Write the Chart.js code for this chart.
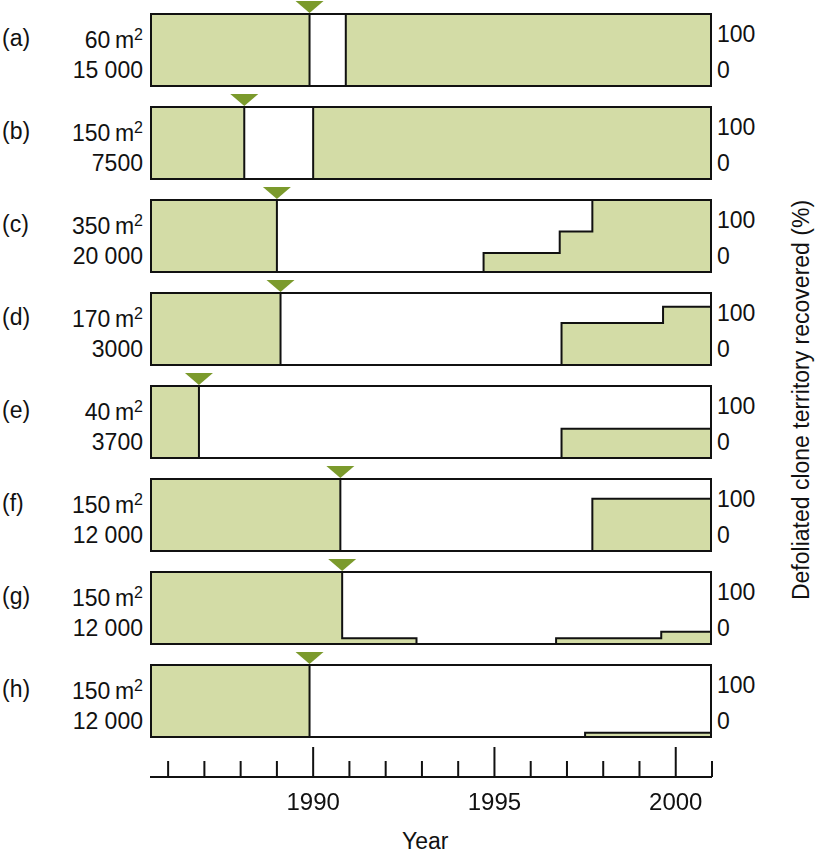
<!DOCTYPE html>
<html>
<head>
<meta charset="utf-8">
<script src="https://cdn.jsdelivr.net/npm/chart.js@4/dist/chart.umd.min.js"></script>
<style>
  body { margin: 0; background: #fff; font-family: "Liberation Sans", Arial, sans-serif; }
  #page { position: relative; width: 821px; height: 858px; }
  .t { position: absolute; font-size: 23px; color: #111; white-space: nowrap; line-height: 1; }
  canvas { position: absolute; }
</style>
</head>
<body>
<div id="page"></div>
<script>
// panel labels
const panelIds = ['(a)', '(b)', '(c)', '(d)', '(e)', '(f)', '(g)', '(h)'];
const areas = ['60', '150', '350', '170', '40', '150', '150', '150'];
const counts = ['15 000', '7500', '20 000', '3000', '3700', '12 000', '12 000', '12 000'];

// year of defoliation (triangle marker)
const events = [1989.9, 1988.1, 1989.0, 1989.1, 1986.85, 1990.75, 1990.8, 1989.9];

// step series: [year, % territory recovered]
const seriesA = [[1985.5, 100], [1989.9, 0], [1990.9, 100], [2001, 100]];
const seriesB = [[1985.5, 100], [1988.1, 0], [1990.0, 100], [2001, 100]];
const seriesC = [[1985.5, 100], [1989.0, 0], [1994.7, 27], [1996.8, 56], [1997.7, 100], [2001, 100]];
const seriesD = [[1985.5, 100], [1989.1, 0], [1996.85, 58], [1999.65, 80], [2001, 80]];
const seriesE = [[1985.5, 100], [1986.85, 0], [1996.85, 41], [2001, 41]];
const seriesF = [[1985.5, 100], [1990.75, 0], [1997.7, 72], [2001, 72]];
const seriesG = [[1985.5, 100], [1990.8, 9], [1992.85, 0], [1996.7, 9], [1999.6, 18], [2001, 18]];
const seriesH = [[1985.5, 100], [1989.9, 0], [1997.5, 7], [2001, 7]];
const allSeries = [seriesA, seriesB, seriesC, seriesD, seriesE, seriesF, seriesG, seriesH];

// axis
const yearMin = 1985.5, yearMax = 2001;
const tickYears = [1986, 1987, 1988, 1989, 1990, 1991, 1992, 1993, 1994, 1995, 1996, 1997, 1998, 1999, 2000, 2001];
const majorYears = [1990, 1995, 2000];

const page = document.getElementById('page');
const PL = 150, PW = 562, PH = 74, GAP = 93, TOP0 = 13;
const fillColor = '#d3dca6', markColor = '#7b9a2c';

function addText(txt, x, y, align, html) {
  const d = document.createElement('div');
  d.className = 't';
  if (html) d.innerHTML = txt; else d.textContent = txt;
  d.style.top = (y - 11) + 'px';
  if (align === 'right') { d.style.right = (821 - x) + 'px'; } else { d.style.left = x + 'px'; }
  page.appendChild(d);
}

const framePlugin = {
  id: 'frame',
  afterDatasetsDraw(chart) {
    const { ctx, chartArea: a } = chart;
    ctx.save();
    ctx.strokeStyle = '#111';
    ctx.lineWidth = 2;
    ctx.strokeRect(a.left + 1, a.top + 1, a.width - 2, a.height - 2);
    ctx.restore();
  }
};

const markerPlugin = {
  id: 'marker',
  afterDraw(chart, args, opts) {
    const { ctx } = chart;
    const x = chart.scales.x.getPixelForValue(opts.year);
    const top = chart.chartArea.top;
    ctx.save();
    ctx.fillStyle = markColor;
    ctx.beginPath();
    ctx.moveTo(x - 14, top - 12);
    ctx.lineTo(x + 14, top - 12);
    ctx.lineTo(x, top);
    ctx.closePath();
    ctx.fill();
    ctx.restore();
  }
};

allSeries.forEach((s, i) => {
  const T = TOP0 + GAP * i;
  const wrap = document.createElement('div');
  wrap.style.cssText = `position:absolute;left:${PL}px;top:${T - 14}px;width:${PW}px;height:${PH + 14}px;`;
  const cv = document.createElement('canvas');
  wrap.appendChild(cv);
  page.appendChild(wrap);

  new Chart(cv, {
    type: 'line',
    data: {
      datasets: [{
        data: s.map(p => ({ x: p[0], y: p[1] })),
        stepped: 'before',
        borderColor: '#111',
        borderWidth: 2,
        backgroundColor: fillColor,
        fill: 'origin',
        pointRadius: 0
      }]
    },
    options: {
      responsive: true,
      maintainAspectRatio: false,
      animation: false,
      layout: { padding: { top: 14 } },
      plugins: { legend: { display: false }, tooltip: { enabled: false }, marker: { year: events[i] } },
      scales: {
        x: { type: 'linear', min: yearMin, max: yearMax, display: false },
        y: { min: 0, max: 100, display: false }
      }
    },
    plugins: [framePlugin, markerPlugin]
  });

  addText(panelIds[i], 2, T + 25);
  addText(areas[i] + '\u2009m<sup style="font-size:16px;vertical-align:8px">2</sup>', 143, T + 25, 'right', true);
  addText(counts[i], 143, T + 57, 'right');
  addText('100', 717, T + 21);
  addText('0', 717, T + 57);
});

// time axis
const axWrap = document.createElement('div');
axWrap.style.cssText = `position:absolute;left:${PL - 30}px;top:740px;width:${PW + 60}px;height:80px;`;
const axCv = document.createElement('canvas');
axWrap.appendChild(axCv);
page.appendChild(axWrap);

const axisPlugin = {
  id: 'yearAxis',
  afterDraw(chart) {
    const { ctx } = chart;
    const sx = chart.scales.x;
    const base = 37;
    ctx.save();
    ctx.strokeStyle = '#111';
    ctx.lineWidth = 2;
    ctx.beginPath();
    ctx.moveTo(sx.getPixelForValue(yearMin), base);
    ctx.lineTo(sx.getPixelForValue(yearMax), base);
    tickYears.forEach(y => {
      const px = sx.getPixelForValue(y);
      const len = majorYears.includes(y) ? 30 : 16;
      ctx.moveTo(px, base);
      ctx.lineTo(px, base - len);
    });
    ctx.stroke();
    ctx.fillStyle = '#111';
    ctx.font = '24px "Liberation Sans", Arial, sans-serif';
    ctx.textAlign = 'center';
    ctx.textBaseline = 'middle';
    majorYears.forEach(y => ctx.fillText(String(y), sx.getPixelForValue(y), 63));
    ctx.restore();
  }
};

new Chart(axCv, {
  type: 'line',
  data: { datasets: [{ data: [] }] },
  options: {
    responsive: true,
    maintainAspectRatio: false,
    animation: false,
    layout: { padding: { left: 30, right: 30, top: 0, bottom: 0 } },
    plugins: { legend: { display: false }, tooltip: { enabled: false } },
    scales: {
      x: { type: 'linear', min: yearMin, max: yearMax, display: false },
      y: { display: false }
    }
  },
  plugins: [axisPlugin]
});

addText('Year', 402, 841);

// right-hand rotated title
const rt = document.createElement('div');
rt.className = 't';
rt.textContent = 'Defoliated clone territory recovered (%)';
rt.style.left = '801px';
rt.style.top = '400px';
rt.style.transform = 'translate(-50%, -50%) rotate(-90deg)';
page.appendChild(rt);
</script>
</body>
</html>
